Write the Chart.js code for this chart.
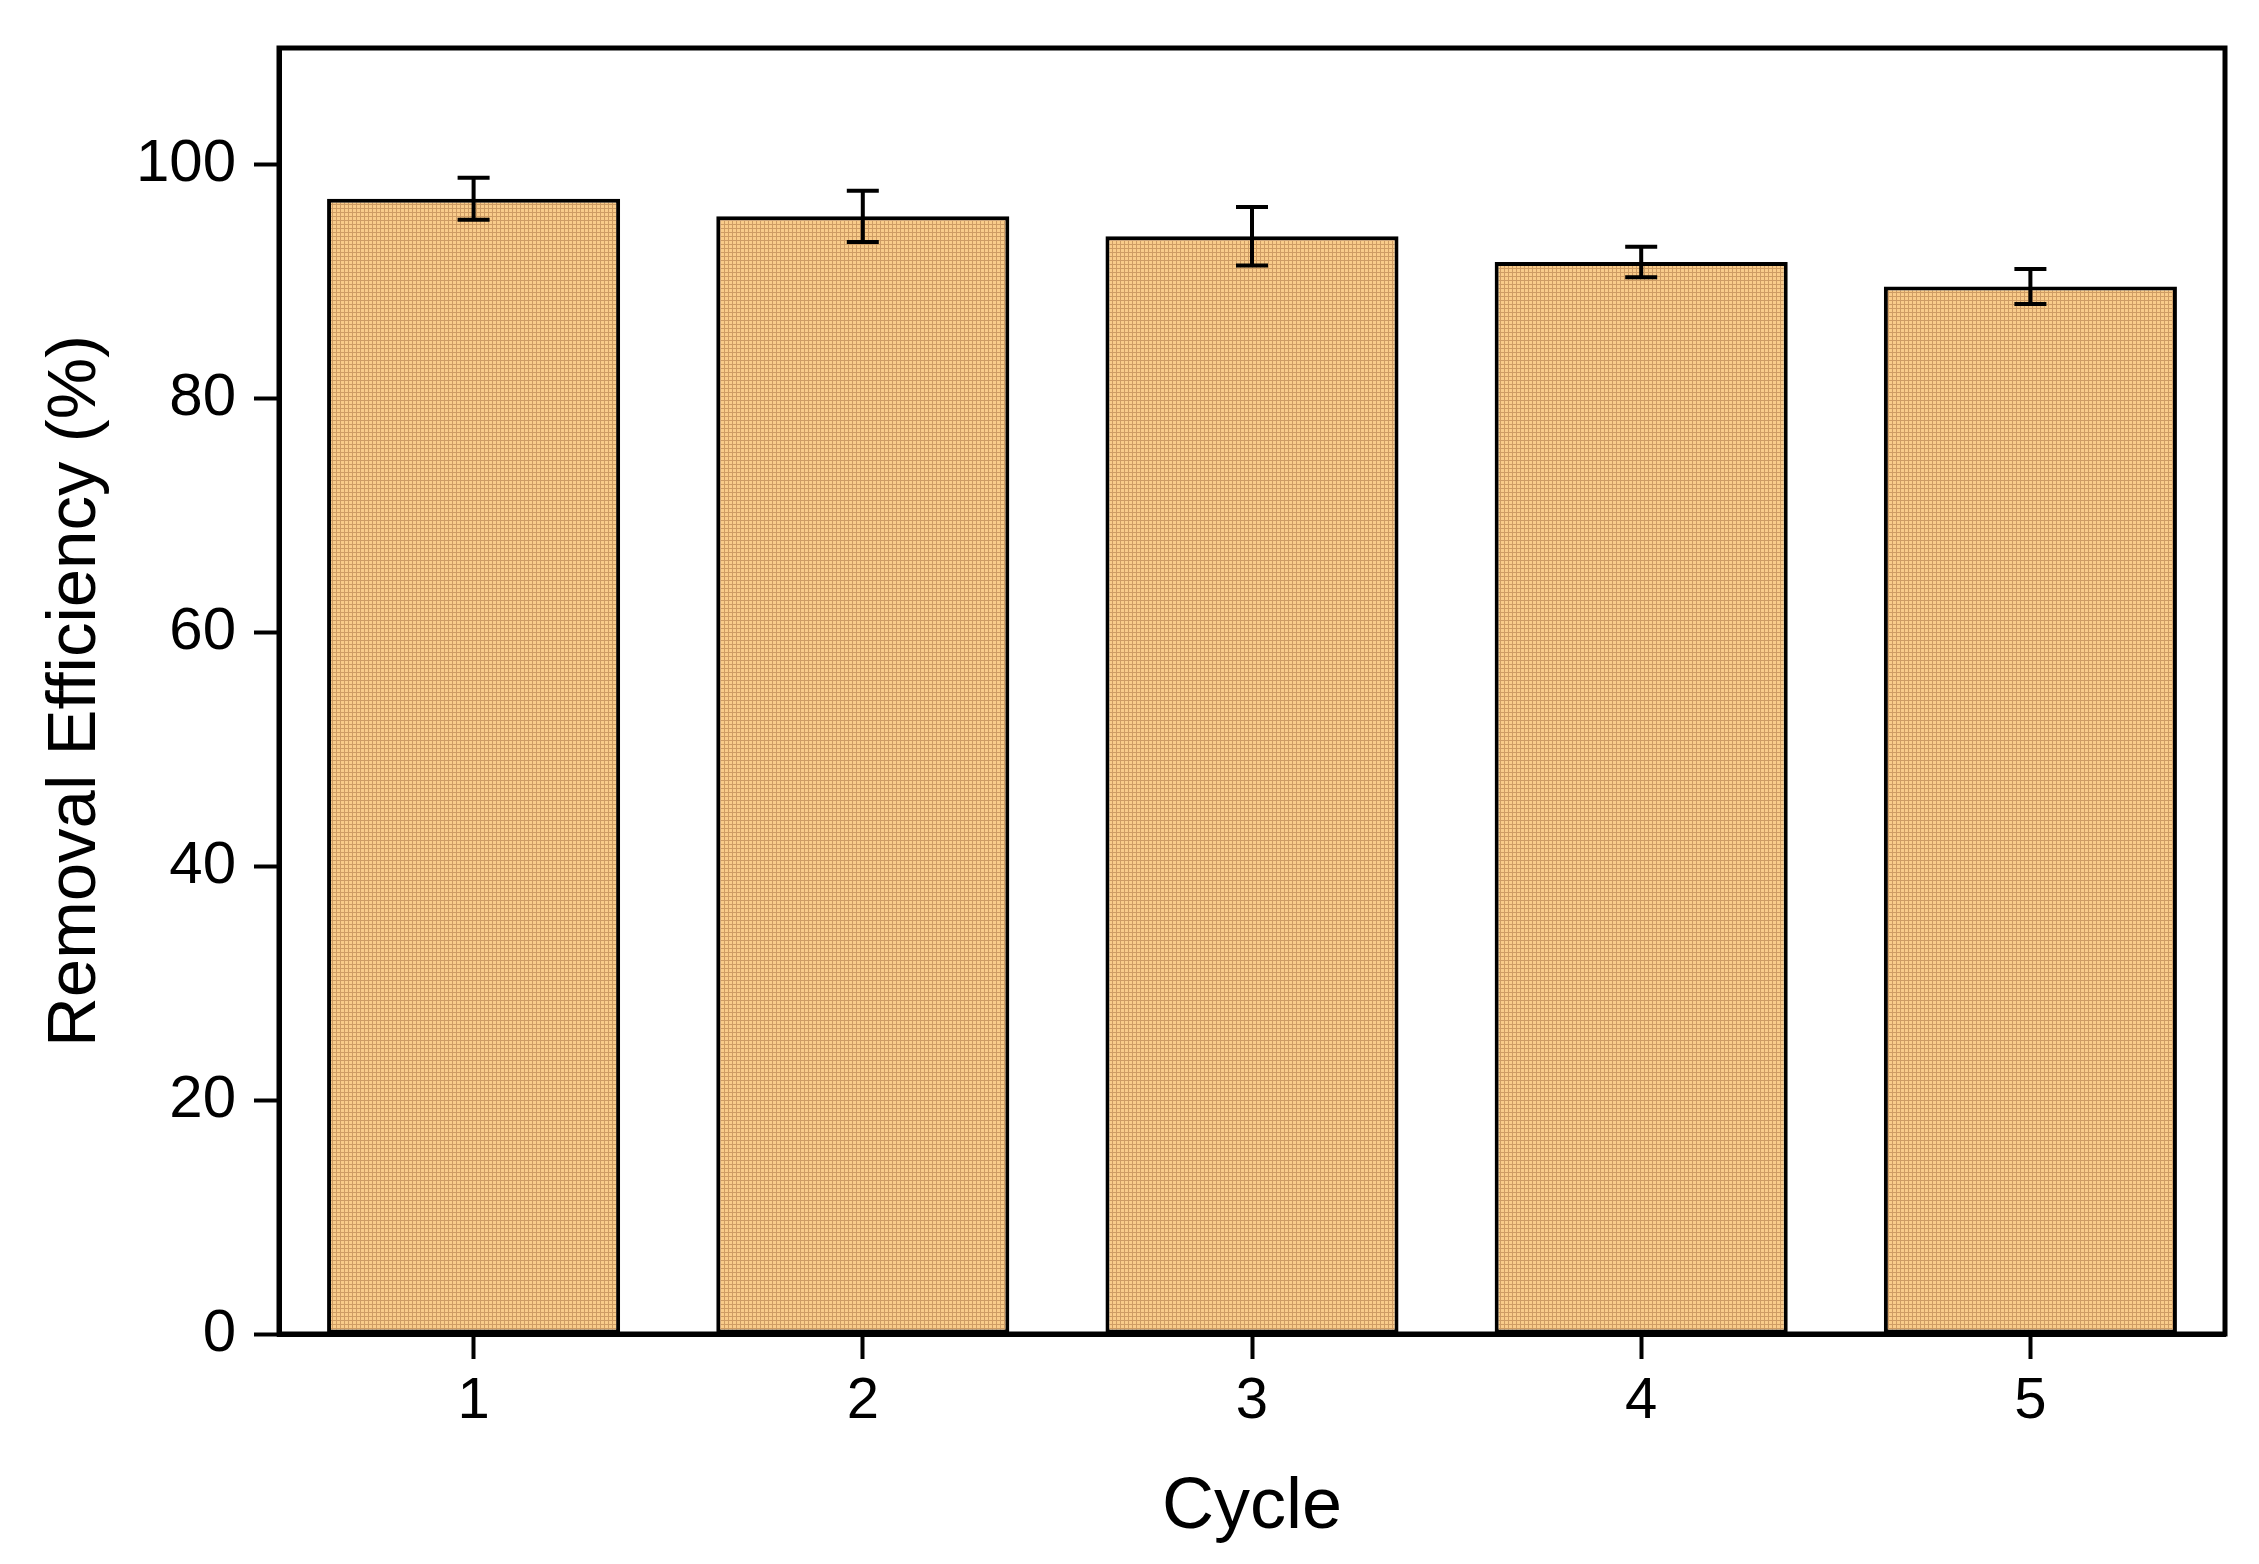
<!DOCTYPE html>
<html>
<head>
<meta charset="utf-8">
<script src="https://cdn.jsdelivr.net/npm/chart.js@4.4.1/dist/chart.umd.min.js"></script>
<style>
  html, body { margin: 0; padding: 0; background: #fff; overflow: hidden; }
  #wrap { width: 2259px; height: 1564px; }
  canvas { display: block; }
</style>
</head>
<body>
<div id="wrap"><canvas id="c" width="2259" height="1564"></canvas></div>
<script>
const categories = ['1', '2', '3', '4', '5'];
const efficiency = [97.1, 95.6, 93.9, 91.7, 89.6];
const errors = [1.8, 2.2, 2.5, 1.3, 1.5];
const yTicks = [0, 20, 40, 60, 80, 100];

const FONT = "'Liberation Sans', Arial, Helvetica, sans-serif";

function makePattern() {
  const p = document.createElement('canvas');
  p.width = 4; p.height = 4;
  const g = p.getContext('2d');
  g.fillStyle = '#F9CC8A';
  g.fillRect(0, 0, 4, 4);
  g.fillStyle = '#CE9C64';
  g.fillRect(0, 0, 4, 1);
  g.fillRect(0, 0, 1, 4);
  return g.createPattern(p, 'repeat');
}

const bgPlugin = {
  id: 'bg',
  beforeDraw(chart) {
    const ctx = chart.ctx;
    ctx.save();
    ctx.fillStyle = '#fff';
    ctx.fillRect(0, 0, chart.width, chart.height);
    ctx.restore();
  }
};

const framePlugin = {
  id: 'frame',
  afterDraw(chart) {
    const a = chart.chartArea, ctx = chart.ctx;
    ctx.save();
    ctx.strokeStyle = '#000';
    ctx.lineWidth = 5;
    ctx.strokeRect(a.left, a.top, a.right - a.left, a.bottom - a.top);
    ctx.restore();
  }
};

const errorPlugin = {
  id: 'errbars',
  afterDatasetsDraw(chart) {
    const ctx = chart.ctx;
    const meta = chart.getDatasetMeta(0);
    const ys = chart.scales.y;
    ctx.save();
    ctx.strokeStyle = '#000';
    ctx.lineWidth = 4;
    meta.data.forEach((bar, i) => {
      const x = bar.x;
      const yHi = ys.getPixelForValue(efficiency[i] + errors[i]);
      const yLo = ys.getPixelForValue(efficiency[i] - errors[i]);
      const cap = 16;
      ctx.beginPath();
      ctx.moveTo(x, yHi); ctx.lineTo(x, yLo);
      ctx.moveTo(x - cap, yHi); ctx.lineTo(x + cap, yHi);
      ctx.moveTo(x - cap, yLo); ctx.lineTo(x + cap, yLo);
      ctx.stroke();
    });
    ctx.restore();
  }
};

new Chart(document.getElementById('c'), {
  type: 'bar',
  data: {
    labels: categories,
    datasets: [{
      data: efficiency,
      backgroundColor: makePattern(),
      borderColor: '#000',
      borderWidth: 4,
      borderSkipped: false,
      barPercentage: 0.753,
      categoryPercentage: 1.0
    }]
  },
  options: {
    responsive: false,
    devicePixelRatio: 1,
    animation: false,
    layout: { autoPadding: false, padding: { top: 48, right: 34, bottom: 0, left: 0 } },
    plugins: {
      legend: { display: false },
      tooltip: { enabled: false },
      title: { display: false }
    },
    scales: {
      x: {
        offset: true,
        grid: {
          offset: false,
          drawOnChartArea: false,
          drawTicks: true,
          tickLength: 25,
          tickWidth: 4,
          tickColor: '#000'
        },
        border: { display: true, color: '#000', width: 5 },
        ticks: {
          color: '#000',
          font: { family: FONT, size: 58 },
          padding: 8
        },
        title: {
          display: true,
          text: 'Cycle',
          color: '#000',
          font: { family: FONT, size: 72 },
          padding: { top: 0, bottom: 13 }
        },
        afterFit(scale) { scale.height = 230; }
      },
      y: {
        min: 0,
        max: 110,
        ticks: {
          color: '#000',
          font: { family: FONT, size: 60, lineHeight: 1.0 },
          padding: 18,
          stepSize: 20
        },
        afterBuildTicks(scale) {
          scale.ticks = yTicks.map(v => ({ value: v }));
        },
        grid: {
          drawOnChartArea: false,
          drawTicks: true,
          tickLength: 25,
          tickWidth: 4,
          tickColor: '#000'
        },
        border: { display: true, color: '#000', width: 5 },
        title: {
          display: true,
          text: 'Removal Efficiency (%)',
          color: '#000',
          font: { family: FONT, size: 69 },
          padding: { top: 35, bottom: 0 }
        },
        afterFit(scale) {
          scale.width = 279;
          scale.paddingTop = 0;
          scale.paddingBottom = 0;
        }
      }
    }
  },
  plugins: [bgPlugin, errorPlugin, framePlugin]
});
</script>
</body>
</html>
